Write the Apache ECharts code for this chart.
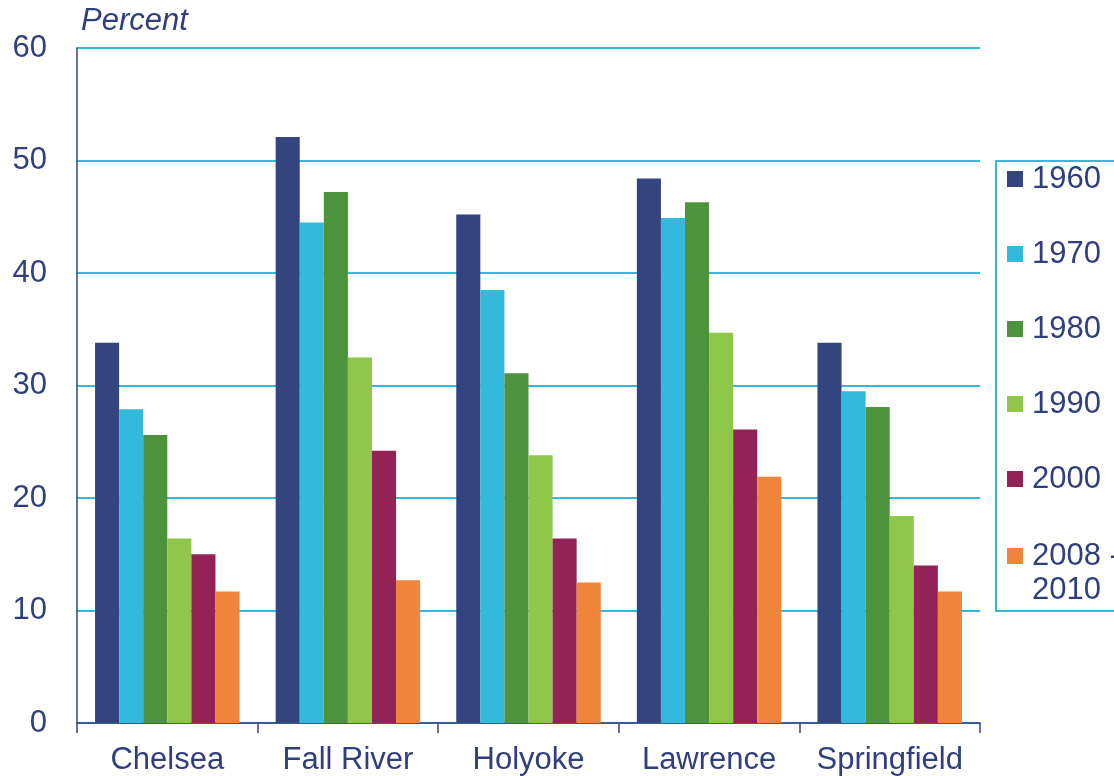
<!DOCTYPE html>
<html><head><meta charset="utf-8">
<script src="https://cdn.jsdelivr.net/npm/echarts@6/dist/echarts.min.js"></script>
<style>html,body{margin:0;padding:0;background:#fff}#c{width:1114px;height:776px}</style>
</head><body><div id="c"></div>
<script>
const categories = ['Chelsea', 'Fall River', 'Holyoke', 'Lawrence', 'Springfield'];
const seriesNames = ['1960', '1970', '1980', '1990', '2000', '2008 - 2010'];
const v1960 = [33.8, 52.1, 45.2, 48.4, 33.8];
const v1970 = [27.9, 44.5, 38.5, 44.9, 29.5];
const v1980 = [25.6, 47.2, 31.1, 46.3, 28.1];
const v1990 = [16.4, 32.5, 23.8, 34.7, 18.4];
const v2000 = [15.0, 24.2, 16.4, 26.1, 14.0];
const v2008 = [11.7, 12.7, 12.5, 21.9, 11.7];
const yTicks = [0, 10, 20, 30, 40, 50, 60];
const colors = ['#34447f', '#33b9db', '#4d933c', '#8fc74a', '#932256', '#ef853a'];
const values = [v1960, v1970, v1980, v1990, v2000, v2008];
const textColor = '#2f3f7e';
const font = 'Liberation Sans, Arial, sans-serif';
const FS = 31;

const legendCommon = {
  orient: 'vertical', left: 1007, padding: 0,
  itemWidth: 16, itemHeight: 16, itemGap: 41,
  icon: 'rect',
  textStyle: { color: textColor, fontSize: FS, fontFamily: font, lineHeight: 34, padding: [0, 0, 0, 4] }
};

const chart = echarts.init(document.getElementById('c'));
chart.setOption({
  animation: false,
  color: colors,
  grid: { left: 77, right: 134, top: 48, bottom: 52 },
  graphic: [{
    type: 'rect', silent: true,
    shape: { x: 996, y: 161, width: 160, height: 450 },
    style: { fill: 'none', stroke: '#33b9db', lineWidth: 2 }
  }],
  legend: [
    Object.assign({}, legendCommon, { top: 162, data: seriesNames.slice(0, 5) }),
    Object.assign({}, legendCommon, {
      top: 505, data: seriesNames.slice(5),
      formatter: n => '\n' + n.replace(' - ', ' -\n')
    })
  ],
  xAxis: {
    type: 'category', data: categories,
    axisLine: { lineStyle: { color: '#34447f', width: 1.5 } },
    axisTick: { show: true, length: 10, lineStyle: { color: '#34447f', width: 1.5 } },
    axisLabel: { interval: 0, color: textColor, fontSize: FS, fontFamily: font, margin: 22 }
  },
  yAxis: {
    type: 'value', min: yTicks[0], max: yTicks[yTicks.length - 1], interval: 10,
    name: 'Percent', nameLocation: 'end', nameGap: 11,
    nameTextStyle: { color: textColor, fontSize: FS, fontStyle: 'italic', fontFamily: font, align: 'left', padding: [0, 0, 0, 4] },
    axisLine: { show: true, lineStyle: { color: '#34447f', width: 1.5 } },
    axisTick: { show: false },
    axisLabel: { color: textColor, fontSize: FS, fontFamily: font, margin: 30 },
    splitLine: { lineStyle: { color: '#33b9db', width: 2 } }
  },
  series: seriesNames.map((n, i) => ({
    name: n, type: 'bar', data: values[i],
    barGap: '0%', barCategoryGap: '20%',
    itemStyle: { color: colors[i] }
  }))
});
</script></body></html>
